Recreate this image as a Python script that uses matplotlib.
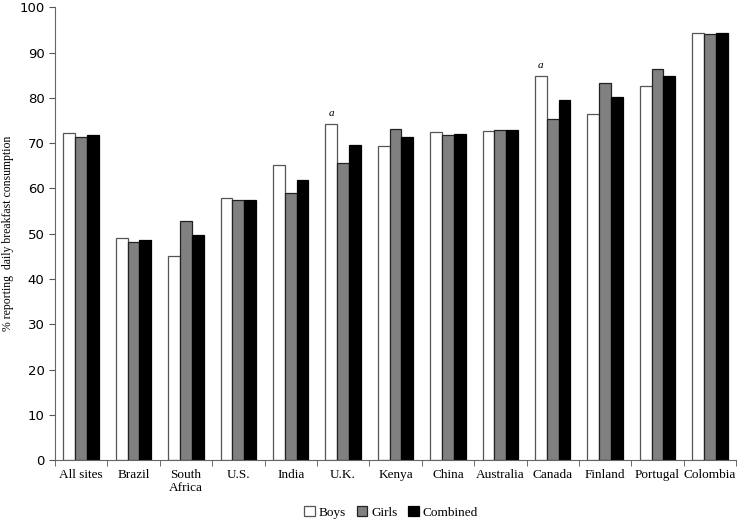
import numpy as np
import matplotlib
matplotlib.use("Agg")
import matplotlib.pyplot as plt

# data
sites = ["All sites", "Brazil", "South\nAfrica", "U.S.", "India", "U.K.", "Kenya",
         "China", "Australia", "Canada", "Finland", "Portugal", "Colombia"]
boys = [72.2, 49.0, 45.1, 57.8, 65.1, 74.3, 69.3, 72.5, 72.7, 84.9, 76.5, 82.6, 94.4]
girls = [71.4, 48.2, 52.9, 57.5, 58.9, 65.7, 73.1, 71.8, 73.0, 75.3, 83.3, 86.3, 94.1]
combined = [71.9, 48.6, 49.7, 57.5, 61.8, 69.6, 71.4, 72.1, 73.0, 79.5, 80.2, 84.8, 94.4]
flagged = ["U.K.", "Canada"]

serif = ["Liberation Serif", "DejaVu Serif"]

fig = plt.figure(figsize=(7.38, 5.23), dpi=100)
ax = fig.add_axes([0.0745, 0.12, 0.923, 0.866])

x = np.arange(len(sites))
w = 0.225
ax.bar(x - w, boys, w, color="white", edgecolor="#555555", linewidth=0.9, label="Boys")
ax.bar(x, girls, w, color="#808080", edgecolor="#222222", linewidth=0.9, label="Girls")
ax.bar(x + w, combined, w, color="black", edgecolor="black", linewidth=0.9, label="Combined")

for i, s in enumerate(sites):
    if s in flagged:
        ax.text(x[i] - w, boys[i] + 1.2, "a", ha="center", va="bottom",
                fontsize=8, style="italic", family=serif)

ax.set_xlim(-0.5, len(sites) - 0.5)
ax.set_ylim(0, 100)
ax.set_yticks(range(0, 101, 10))
ax.set_xticks(x)
ax.set_xticklabels(sites, family=serif, fontsize=9.5)
ax.set_xticks(np.arange(len(sites) + 1) - 0.5, minor=True)
ax.tick_params(axis="x", which="major", length=0, pad=6)
ax.tick_params(axis="x", which="minor", length=4, color="#555555")
ax.tick_params(axis="y", length=4, color="#555555", labelsize=9.5)
for lab in ax.get_yticklabels():
    lab.set_family(["DejaVu Sans"])

ax.set_ylabel("% reporting  daily breakfast consumption", family=serif, fontsize=8.5)

for sp in ["top", "right"]:
    ax.spines[sp].set_visible(False)
for sp in ["left", "bottom"]:
    ax.spines[sp].set_color("#666666")

leg = fig.legend(loc="lower center", bbox_to_anchor=(0.53, -0.015), ncol=3, frameon=False,
                 prop={"family": serif, "size": 9.5}, handlelength=0.8, handleheight=0.8,
                 handletextpad=0.3, columnspacing=0.8)

fig.savefig("out.png", dpi=100)
